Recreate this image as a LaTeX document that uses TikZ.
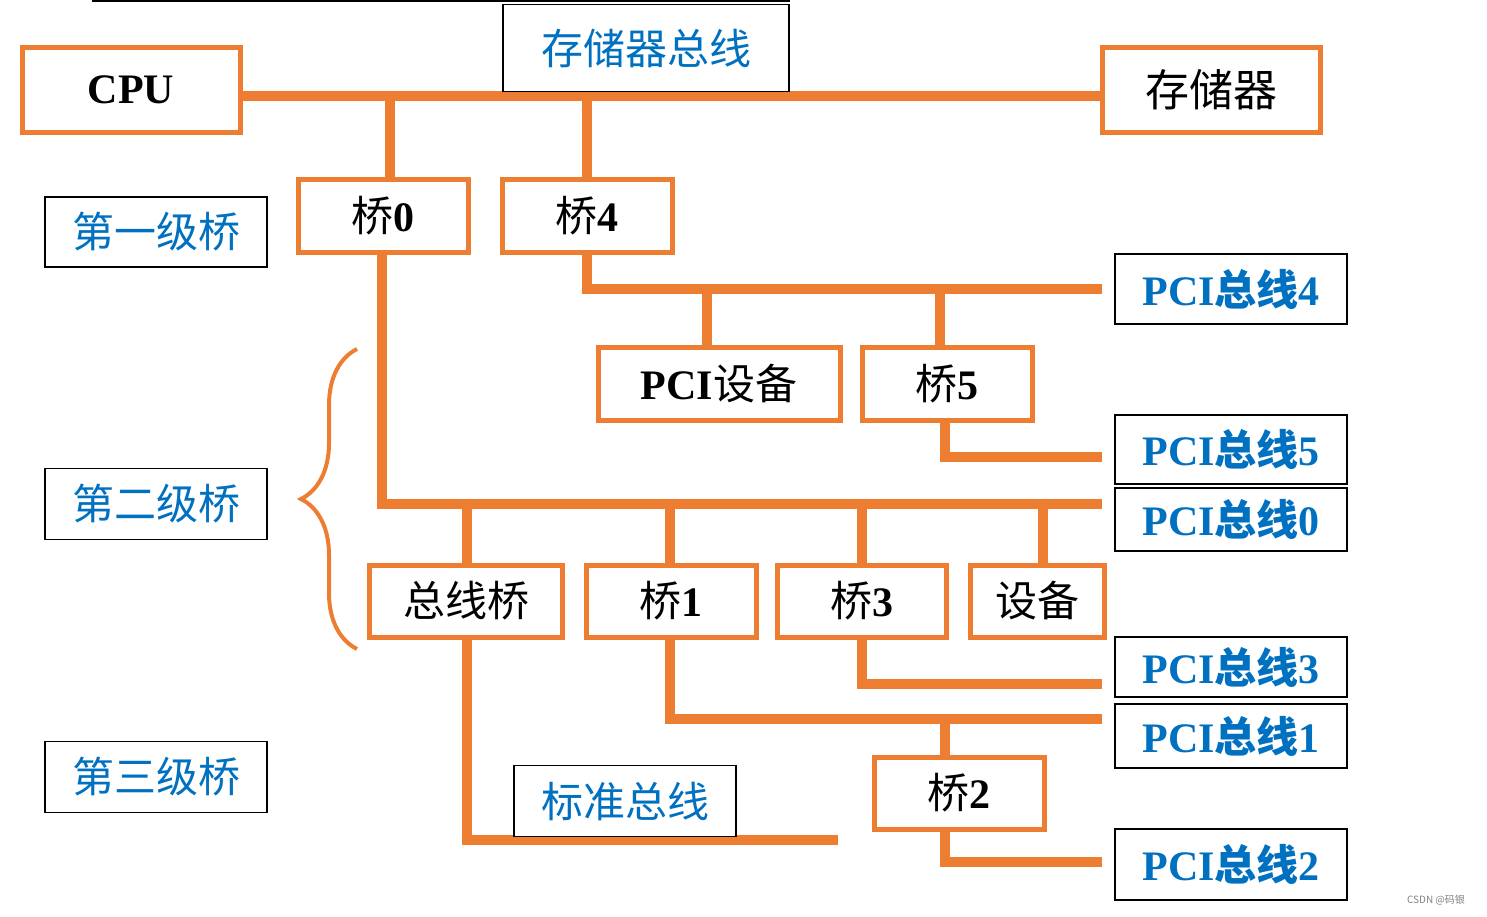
\documentclass[tikz,border=0pt]{standalone}
\usepackage{fontspec}
\setmainfont{Liberation Serif}
\newfontfamily\cjk{Noto Sans CJK SC}
\usetikzlibrary{decorations.pathreplacing}
\definecolor{org}{HTML}{ED7D31}
\definecolor{blu}{HTML}{0070C0}
\begin{document}
\begin{tikzpicture}[x=0.5pt,y=-0.5pt,
 sz/.style 2 args={minimum width=#1*0.5pt,minimum height=#2*0.5pt,inner sep=0pt},
 bus/.style={org,line width=5pt},
 ob/.style={draw=org,line width=2.5pt,fill=white,font=\fontsize{21}{24}\selectfont\bfseries,text=black},
 bb/.style={draw=black,line width=0.7pt,fill=white,text=blu,font=\fontsize{21}{24}\selectfont\bfseries,sz={232}{#1}},
 lb/.style={draw=black,line width=0.7pt,fill=white,text=blu,font=\cjk\fontsize{21}{24}\selectfont}]
\useasboundingbox (0,0) rectangle (1487,916);
% buses
\draw[bus] (240,96) -- (1102,96);
\draw[bus] (390,96) -- (390,180);
\draw[bus] (587,96) -- (587,180);
\draw[bus] (587,253) -- (587,289) -- (1102,289);
\draw[bus] (707,289) -- (707,348);
\draw[bus] (940,289) -- (940,348);
\draw[bus] (945,421) -- (945,457) -- (1102,457);
\draw[bus] (382,253) -- (382,504) -- (1102,504);
\foreach \x in {467,670,862,1043} \draw[bus] (\x,504) -- (\x,565);
\draw[bus] (862,637) -- (862,684) -- (1102,684);
\draw[bus] (670,637) -- (670,719) -- (1102,719);
\draw[bus] (945,719) -- (945,757);
\draw[bus] (945,829) -- (945,862) -- (1102,862);
\draw[bus] (467,637) -- (467,840) -- (838,840);
% top line and label box
\draw[black,line width=0.7pt] (92,1) -- (790,1);
\node[lb,sz={286}{87}] (ccz) at (646,48) {存储器总线};
% orange boxes
\node[ob,sz={218}{85}] (cpu) at (131,90) {CPU};
\node[ob,sz={218}{85},font=\cjk\fontsize{22}{24}\selectfont] (mem) at (1211,90) {存储器};
\node[ob,sz={170}{73}] (q0) at (383,216) {{\cjk\mdseries 桥}0};
\node[ob,sz={170}{73}] (q4) at (587,216) {{\cjk\mdseries 桥}4};
\node[ob,sz={242}{73}] (pd) at (719,384) {PCI{\cjk\mdseries 设备}};
\node[ob,sz={170}{73}] (q5) at (947,384) {{\cjk\mdseries 桥}5};
\node[ob,sz={193}{72},font=\cjk\fontsize{21}{24}\selectfont] (zq) at (466,601) {总线桥};
\node[ob,sz={170}{72}] (q1) at (671,601) {{\cjk\mdseries 桥}1};
\node[ob,sz={169}{72}] (q3) at (862,601) {{\cjk\mdseries 桥}3};
\node[ob,sz={134}{72},font=\cjk\fontsize{21}{24}\selectfont] (sb) at (1037,601) {设备};
\node[ob,sz={170}{72}] (q2) at (959,793) {{\cjk\mdseries 桥}2};
% blue label boxes
\node[lb,sz={222}{70}] (l1) at (156,232) {第一级桥};
\node[lb,sz={222}{71}] (l2) at (156,504) {第二级桥};
\node[lb,sz={222}{71}] (l3) at (156,777) {第三级桥};
\node[lb,sz={222}{71}] (bz) at (625,801) {标准总线};
\node[bb=70] (p4) at (1231,289) {PCI{\cjk 总线}4};
\node[bb=69] (p5) at (1231,449.5) {PCI{\cjk 总线}5};
\node[bb=63] (p0) at (1231,519.5) {PCI{\cjk 总线}0};
\node[bb=60] (p3) at (1231,667) {PCI{\cjk 总线}3};
\node[bb=64] (p1) at (1231,736) {PCI{\cjk 总线}1};
\node[bb=71] (p2) at (1231,864.5) {PCI{\cjk 总线}2};
% brace
\draw[org,line width=2pt,decorate,decoration={brace,amplitude=28pt}] (357,649) -- (357,349);
\node[text=gray,font=\cjk\fontsize{5}{6}\selectfont,anchor=east] (wm) at (1472,900) {CSDN @码银};
\end{tikzpicture}
\end{document}
